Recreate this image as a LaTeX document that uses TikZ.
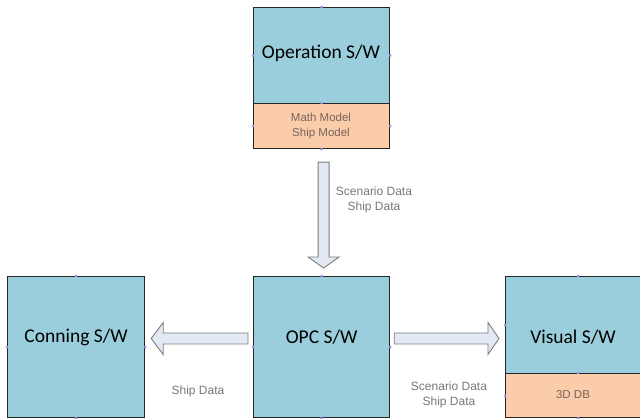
\documentclass[tikz,border=0pt]{standalone}
\usepackage{fontspec}
\setmainfont{Carlito}
\newfontfamily\smallfont{Liberation Sans}
\usetikzlibrary{calc}
\definecolor{boxblue}{RGB}{154,206,220}
\definecolor{boxorange}{RGB}{250,204,170}
\definecolor{arrowfill}{RGB}{226,233,245}
\definecolor{arrowline}{RGB}{125,125,125}
\definecolor{labelgray}{RGB}{120,120,120}
\definecolor{subgray}{RGB}{120,100,90}
\definecolor{handle}{RGB}{165,150,235}
\begin{document}
\begin{tikzpicture}[x=1pt,y=-1pt,
  bluebox/.style={draw=black!85,line width=1.2pt,fill=boxblue,inner sep=0pt},
  orangebox/.style={draw=black!85,line width=1.2pt,fill=boxorange,inner sep=0pt},
  bigtext/.style={font=\fontsize{19.5}{22}\selectfont,text=black},
  subtext/.style={font=\smallfont\fontsize{11.5}{15}\selectfont,text=subgray,align=center},
  datalabel/.style={font=\smallfont\fontsize{12}{15}\selectfont,text=labelgray,align=center},
  blockarrow/.style={draw=arrowline,line width=0.9pt,fill=arrowfill,line join=miter},
  hdl/.style={fill=handle,circle,inner sep=0pt,minimum size=3pt}]
\useasboundingbox (0,0) rectangle (640,419);
\clip (0,0) rectangle (640,419);
\fill[white] (0,0) rectangle (640,419);

% boxes
\node[bluebox,minimum width=136pt,minimum height=96pt,anchor=north west] (op) at (253,7) {};
\node[orangebox,minimum width=136pt,minimum height=45pt,anchor=north west] (opm) at (253,103) {};
\node[bigtext] (optext) at (321,53) {Operation S/W};
\node[subtext] (opmtext) at (321,126) {Math Model\\Ship Model};

\node[bluebox,minimum width=137pt,minimum height=141pt,anchor=north west] (con) at (7,276) {};
\node[bigtext] (context) at (con.center |- 0,337) {Conning S/W};

\node[bluebox,minimum width=136pt,minimum height=141pt,anchor=north west] (opc) at (253,276) {};
\node[bigtext] (opctext) at (opc.center |- 0,337) {OPC S/W};

\node[bluebox,minimum width=145pt,minimum height=97pt,anchor=north west] (vis) at (505,276) {};
\node[orangebox,minimum width=145pt,minimum height=44pt,anchor=north west] (visdb) at (505,373) {};
\node[bigtext] (vistext) at (573,337) {Visual S/W};
\node[subtext] (dbtext) at (573,395) {3D DB};

% block arrows
\coordinate (dtop) at ($(opm.south)+(2,13)$);
\coordinate (dtip) at ($(opc.north)+(2,-8)$);
\draw[blockarrow] ($(dtop)+(-5.5,0)$) -- ($(dtop)+(5.5,0)$) -- ($(dtip)+(5.5,-11)$) -- ($(dtip)+(15.5,-11)$) -- (dtip) -- ($(dtip)+(-15.5,-11)$) -- ($(dtip)+(-5.5,-11)$) -- cycle;

\coordinate (lstart) at ($(opc.west |- 0,338.5)+(-5,0)$);
\coordinate (ltip) at ($(con.east |- 0,338.5)+(6,0)$);
\draw[blockarrow] ($(lstart)+(0,-5.5)$) -- ($(lstart)+(0,5.5)$) -- ($(ltip)+(12,5.5)$) -- ($(ltip)+(12,16)$) -- (ltip) -- ($(ltip)+(12,-16)$) -- ($(ltip)+(12,-5.5)$) -- cycle;

\coordinate (rstart) at ($(opc.east |- 0,338.5)+(4,0)$);
\coordinate (rtip) at ($(vis.west |- 0,338.5)+(-6,0)$);
\draw[blockarrow] ($(rstart)+(0,-5.5)$) -- ($(rstart)+(0,5.5)$) -- ($(rtip)+(-11,5.5)$) -- ($(rtip)+(-11,16)$) -- (rtip) -- ($(rtip)+(-11,-16)$) -- ($(rtip)+(-11,-5.5)$) -- cycle;

% labels
\node[datalabel] (l1) at (374,200) {Scenario Data\\Ship Data};
\node[datalabel] (l2) at (198,391) {Ship Data};
\node[datalabel] (l3) at (449,395) {Scenario Data\\Ship Data};

% selection handles
\foreach \p in {op.north,op.west,op.east,opm.north,opm.west,opm.east,opm.south,
  con.north,con.west,con.east,con.south,opc.north,opc.west,opc.east,opc.south,
  vis.north,vis.west,visdb.north,visdb.west,visdb.south}
  \node[hdl] at (\p) {};
\end{tikzpicture}
\end{document}
